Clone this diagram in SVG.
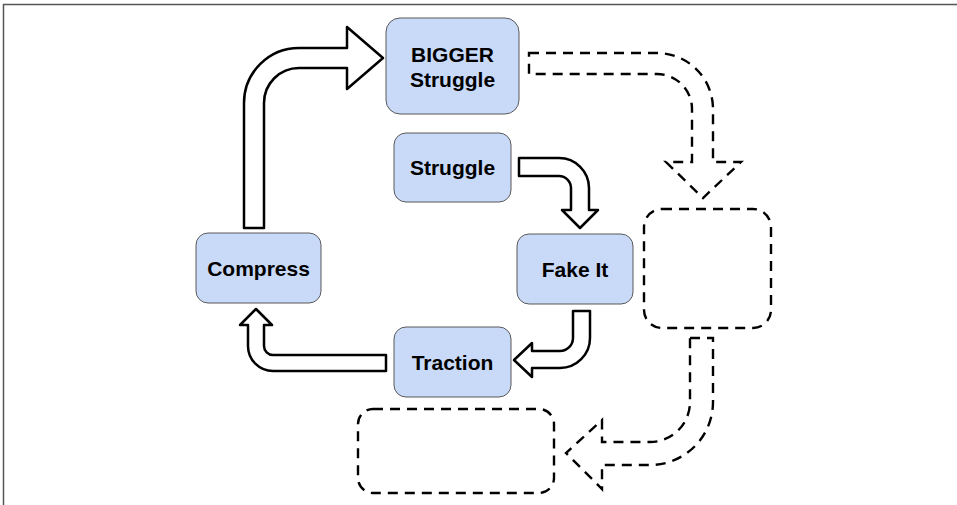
<svg xmlns="http://www.w3.org/2000/svg" width="957" height="505" viewBox="0 0 957 505">
<style>
.node{fill:#c9daf8;stroke:#595959;stroke-width:1}
.lbl{font-family:"Liberation Sans",Arial,sans-serif;font-weight:bold;font-size:21px;fill:#000;text-anchor:middle}
.arr{fill:#fff;stroke:#000;stroke-width:2.5;stroke-linejoin:round}
.dash{fill:none;stroke:#000;stroke-width:2.4;stroke-dasharray:10 7}
.darr{fill:#fff;stroke:#000;stroke-width:2.4;stroke-dasharray:10 7}
</style>
<rect width="957" height="505" fill="#fff"/>
<path d="M3.5,505 V4.5 H957" fill="none" stroke="#555" stroke-width="1.5"/>
<g id="connectors">
<path class="arr" d="M244,228 V103 A55,55 0 0 1 299,48 H347 V27 L383,58 L347,89 V68 H299 A35,35 0 0 0 264,103 V228 Z"/>
<path class="arr" d="M519,158 H559 A30,30 0 0 1 589,188 V210 H598 L580,228 L562,210 H571 V188 A12,12 0 0 0 559,176 H519 Z"/>
<path class="arr" d="M573,311 H590 V338 A30,30 0 0 1 560,368 H532 V377 L514,360 L532,343 V351 H560 A13,13 0 0 0 573,338 Z"/>
<path class="arr" d="M386,355 V371 H273 A25,25 0 0 1 248,346 V325 H240 L256,309 L272,325 H264 V346 A9,9 0 0 0 273,355 Z"/>
<path class="darr" d="M529,53 H657 A56,56 0 0 1 713,109 V162 H741 L703,198 L666,162 H692 V109 A35,35 0 0 0 657,74 H529 Z"/>
<path class="darr" d="M690,338 H713 V402 A63,63 0 0 1 650,465 H602 V489 L566,453 L602,420 V442 H650 A40,40 0 0 0 690,402 Z"/>
</g>
<g id="bigger">
<rect class="node" x="386" y="18" width="133" height="96" rx="14"/>
<text class="lbl" x="452.5" y="61.5">BIGGER</text>
<text class="lbl" x="452.5" y="86.5">Struggle</text>
</g>
<g id="struggle">
<rect class="node" x="394" y="133" width="117" height="69" rx="12"/>
<text class="lbl" x="452.5" y="175">Struggle</text>
</g>
<g id="compress">
<rect class="node" x="196" y="233" width="125" height="70" rx="12"/>
<text class="lbl" x="258.5" y="275.5">Compress</text>
</g>
<g id="fakeit">
<rect class="node" x="517" y="234" width="116" height="70" rx="12"/>
<text class="lbl" x="575" y="276.5">Fake It</text>
</g>
<g id="traction">
<rect class="node" x="394" y="327" width="117" height="70" rx="12"/>
<text class="lbl" x="452.5" y="369.5">Traction</text>
</g>
<g id="empty-right">
<rect class="dash" x="644" y="209" width="127" height="119" rx="18"/>
</g>
<g id="empty-bottom">
<rect class="dash" x="358" y="409" width="196" height="84" rx="15"/>
</g>
</svg>
